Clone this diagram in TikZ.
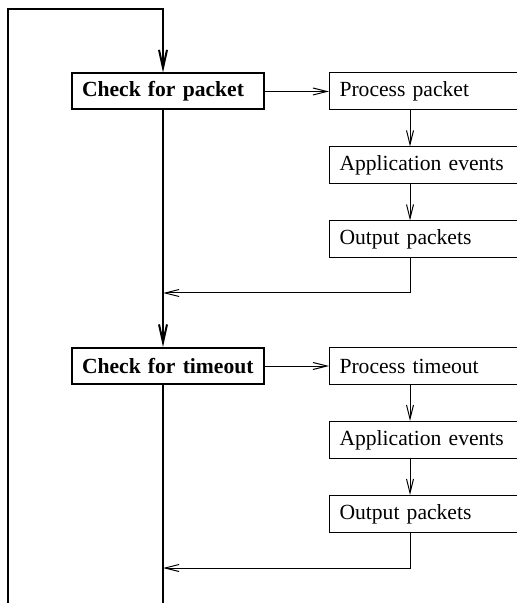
\documentclass[tikz,border=0pt]{standalone}
\usepackage{fontspec}
\setmainfont{Liberation Serif}
\usetikzlibrary{arrows.meta,positioning}

\begin{document}
\begin{tikzpicture}[x=0.5pt, y=-0.5pt,
      main/.style = {line width=1pt, -{Straight Barb[length=9pt, width=4pt]}},
       arr/.style = {line width=0.5pt, -{Straight Barb[length=7pt, width=3.5pt]}},
     check/.style = {draw, line width=1pt,
                     font=\fontsize{10.8pt}{13pt}\selectfont\bfseries,
                     text width=86pt, inner xsep=5pt, inner ysep=0pt,
                     minimum height=18pt, align=left},
      task/.style = {draw, line width=0.5pt,
                     font=\fontsize{10.8pt}{13pt}\selectfont,
                     text width=100pt, inner xsep=5pt, inner ysep=0pt,
                     minimum height=18.5pt, align=left}
                    ]
\useasboundingbox (0,0) rectangle (517,603);

\coordinate (lb)   at (8,603);
\coordinate (top)  at (163,9);
\coordinate (bot)  at (163,603);
\coordinate (col)  at (410,0);
\coordinate (ret1) at (163,293);
\coordinate (ret2) at (163,568);

\node[check] (cpkt) at (168,91.5) {Check for packet};
\node[task, right=32pt of cpkt] (ppkt)  {Process packet};
\node[task, below=18pt of ppkt] (apev1) {Application events};
\node[task, below=18pt of apev1] (outp1) {Output packets};

\node[check] (ctmo) at (168,366) {Check for timeout};
\node[task, right=32pt of ctmo] (ptmo)  {Process timeout};
\node[task, below=18pt of ptmo] (apev2) {Application events};
\node[task, below=18pt of apev2] (outp2) {Output packets};

\draw[main] (lb) |- (top) -- (cpkt.north -| top);
\draw[main] (cpkt.south -| top) -- (ctmo.north -| top);
\draw[line width=1pt] (ctmo.south -| top) -- (bot);

\draw[arr] (cpkt) -- (ppkt);
\draw[arr] (ppkt.south -| col) -- (apev1.north -| col);
\draw[arr] (apev1.south -| col) -- (outp1.north -| col);
\draw[arr] (outp1.south -| col) |- (ret1);

\draw[arr] (ctmo) -- (ptmo);
\draw[arr] (ptmo.south -| col) -- (apev2.north -| col);
\draw[arr] (apev2.south -| col) -- (outp2.north -| col);
\draw[arr] (outp2.south -| col) |- (ret2);
\end{tikzpicture}
\end{document}
